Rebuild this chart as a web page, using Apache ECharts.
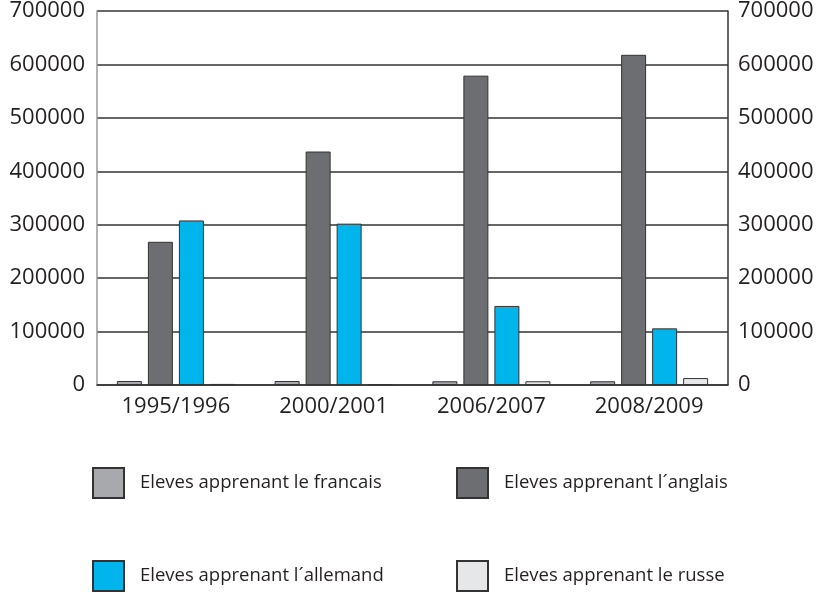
<!DOCTYPE html>
<html>
<head>
<meta charset="utf-8">
<script src="https://cdn.jsdelivr.net/npm/echarts@6/dist/echarts.min.js"></script>
<style>
    html, body { margin: 0; padding: 0; background: #fff; }
    #chart { width: 826px; height: 593px; }
</style>
</head>
<body>
<div id="chart"></div>
<script>
// periodes
const years = ['1995/1996', '2000/2001', '2006/2007', '2008/2009'];

// eleves par langue
const francais = [7500, 7500, 7000, 7000];
const anglais = [268000, 437000, 579000, 618000];
const allemand = [308000, 302000, 148000, 106000];
const russe = [2000, 1500, 7000, 13000];

const names = [
    'Eleves apprenant le francais',
    'Eleves apprenant l´anglais',
    'Eleves apprenant l´allemand',
    'Eleves apprenant le russe'
];
const colors = ['#a7a9ac', '#6d6e71', '#00b5ec', '#e6e7e8'];

const font = '"Open Sans", sans-serif';
const textColor = '#231f20';

function bar(i, data) {
    return {
        name: names[i],
        type: 'bar',
        data: data,
        barWidth: 25,
        barGap: '24%',
        itemStyle: {
            color: colors[i],
            borderColor: '#333',
            borderWidth: 1
        }
    };
}

// one legend per item, placed like the original
const legendPos = [
    { left: 92, top: 467 },
    { left: 456, top: 467 },
    { left: 92, top: 560 },
    { left: 456, top: 560 }
];

let chart = echarts.init(document.getElementById('chart'));
chart.setOption({
    animation: false,
    backgroundColor: '#fff',
    textStyle: { fontFamily: font },
    grid: { left: 97, right: 98, top: 10, bottom: 208 },
    legend: legendPos.map((p, i) => ({
        data: [{ name: names[i], icon: 'rect' }],
        left: p.left,
        top: p.top,
        itemWidth: 31,
        itemHeight: 30,
        itemGap: 0,
        padding: 0,
        textStyle: { fontSize: 18.5, color: textColor, fontFamily: font, padding: [0, 0, 0, 11] },
        selectedMode: false
    })),
    xAxis: {
        type: 'category',
        data: years,
        axisLine: { show: true, lineStyle: { color: '#333', width: 1.5 } },
        axisTick: { show: false },
        axisLabel: { fontSize: 22, color: textColor, margin: 11 }
    },
    yAxis: [
        {
            type: 'value',
            min: 0,
            max: 700000,
            interval: 100000,
            position: 'left',
            axisLine: { show: true, lineStyle: { color: '#999', width: 1.5 } },
            axisTick: { show: false },
            splitLine: { show: true, lineStyle: { color: '#333', width: 1.5 } },
            axisLabel: { fontSize: 22, color: textColor, margin: 12, formatter: v => String(v) }
        },
        {
            type: 'value',
            min: 0,
            max: 700000,
            interval: 100000,
            position: 'right',
            axisLine: { show: true, lineStyle: { color: '#333', width: 1.5 } },
            axisTick: { show: false },
            splitLine: { show: false },
            axisLabel: { fontSize: 22, color: textColor, margin: 10, formatter: v => String(v) }
        }
    ],
    series: [
        bar(0, francais),
        bar(1, anglais),
        bar(2, allemand),
        bar(3, russe)
    ]
});
</script>
</body>
</html>
